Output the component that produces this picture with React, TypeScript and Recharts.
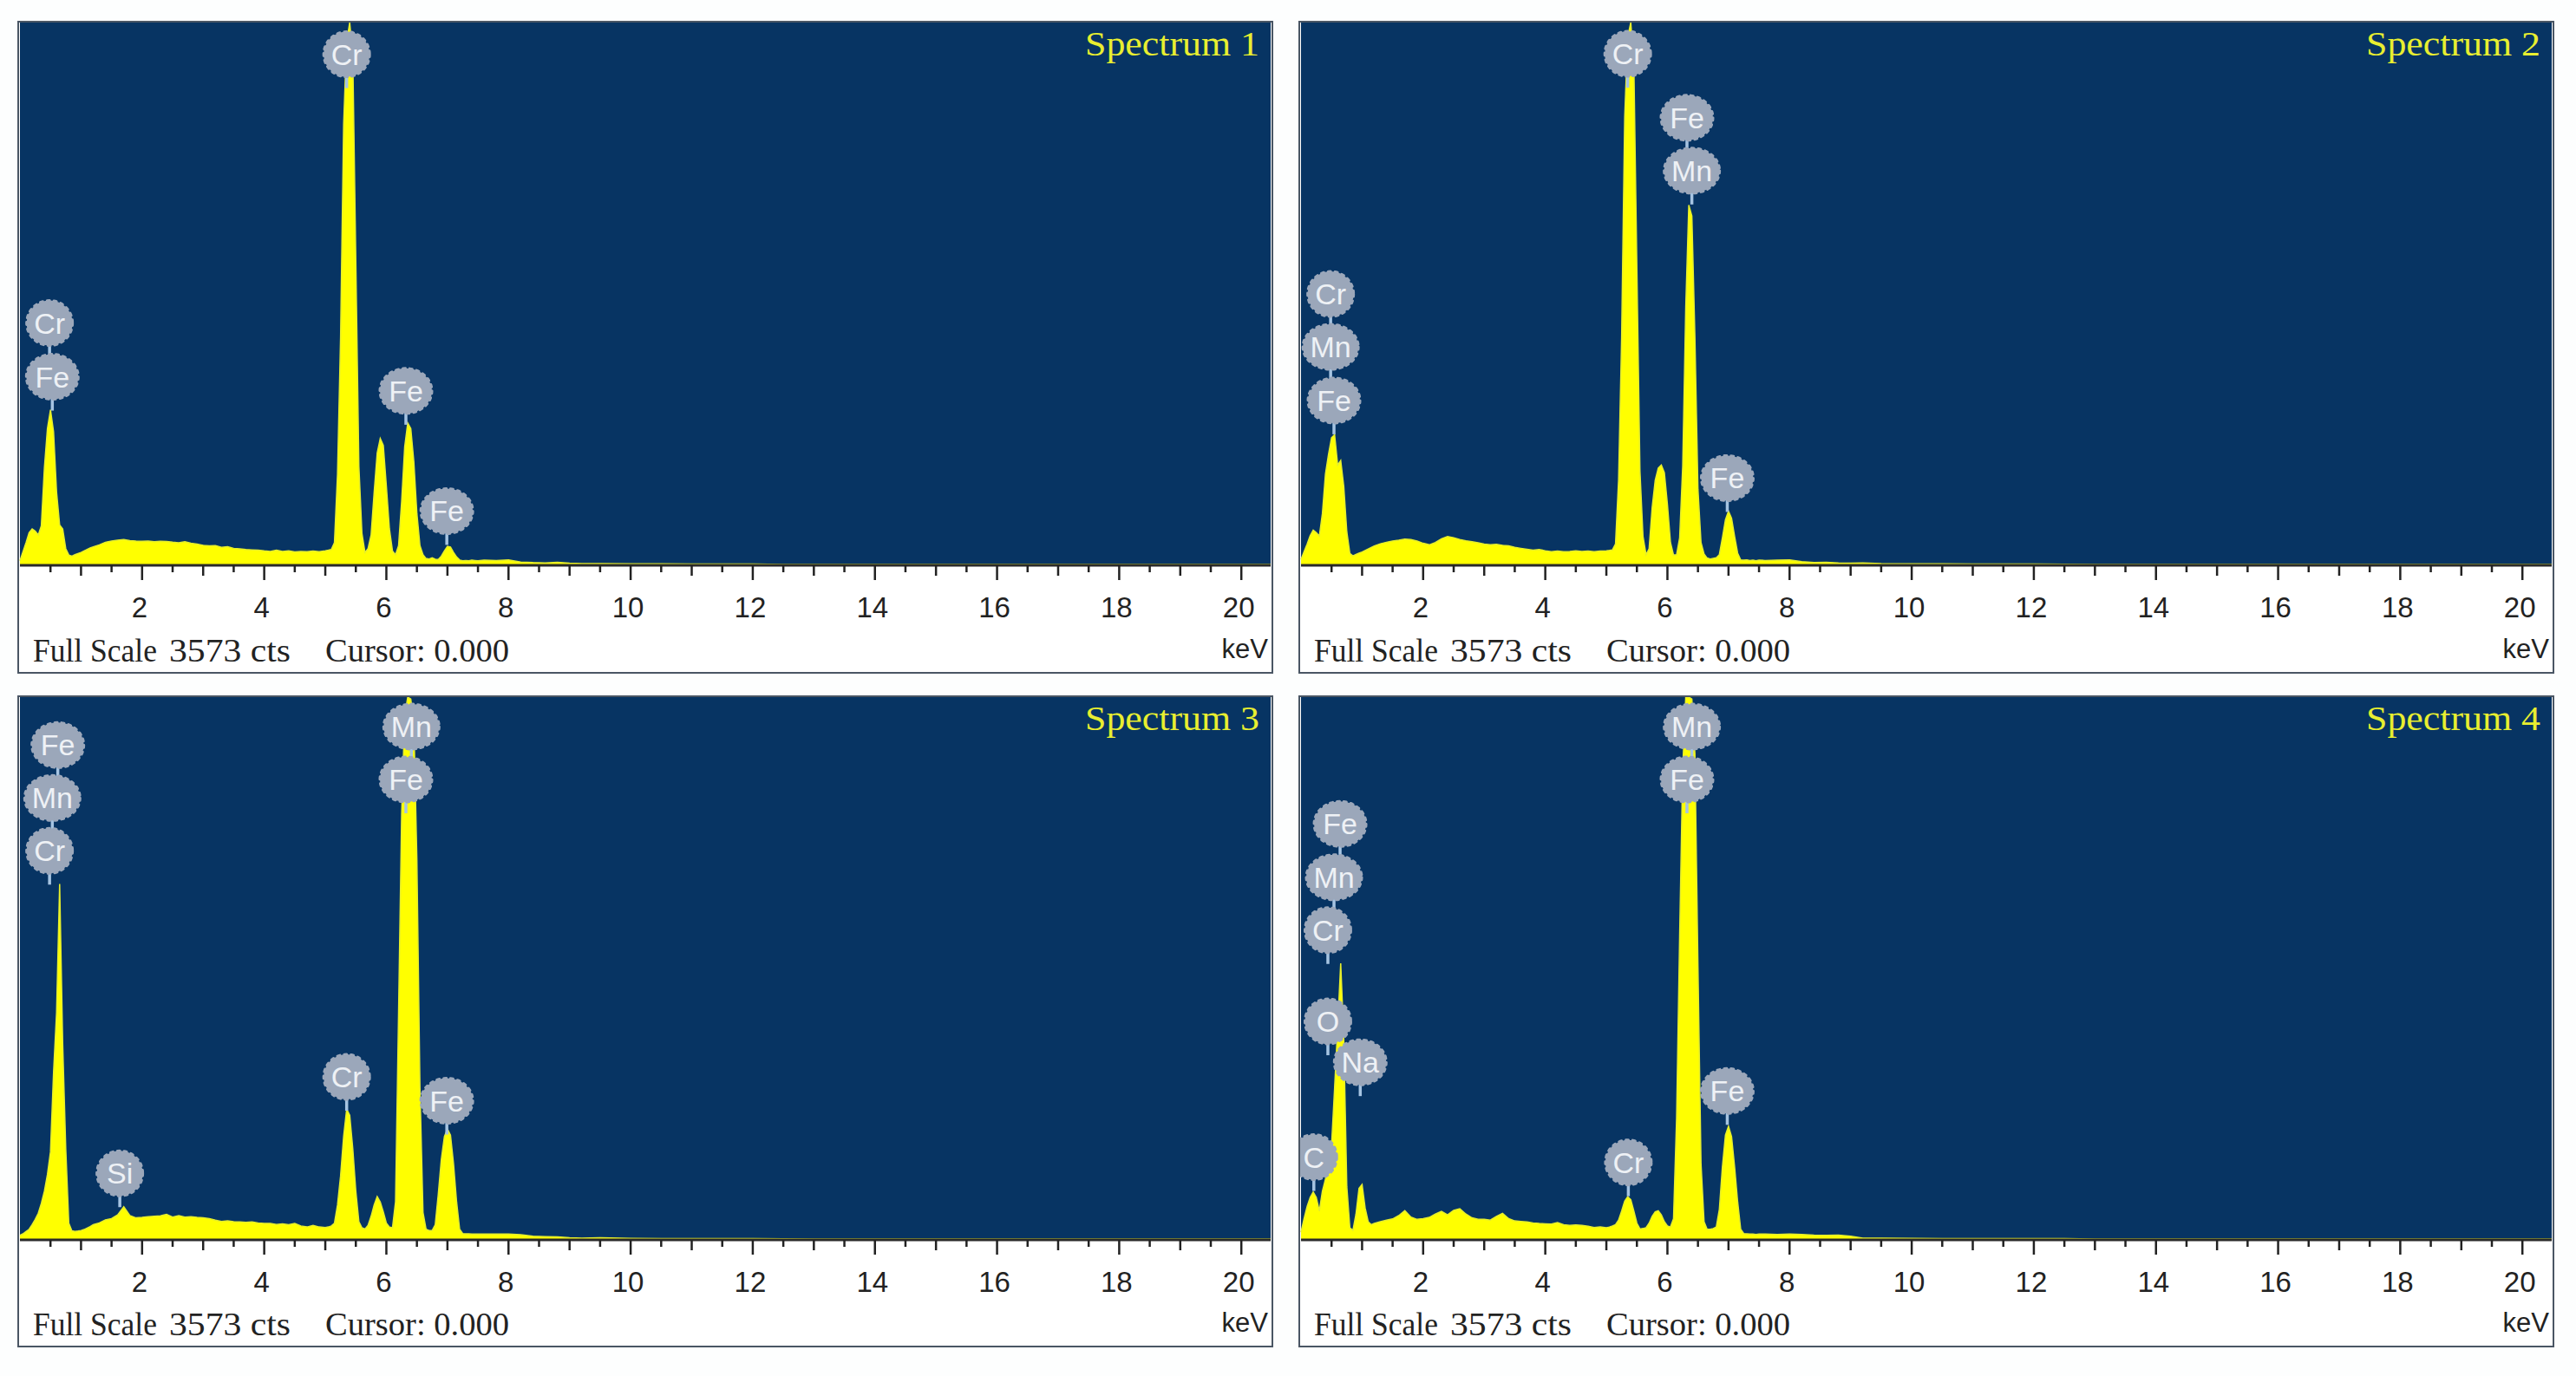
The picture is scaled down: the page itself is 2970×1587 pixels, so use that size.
import { Area, AreaChart, CartesianGrid, ReferenceDot, XAxis, YAxis } from "recharts";

// energy grid shared by the four spectra (keV)
const energies = [
  0, 0.05, 0.1, 0.15, 0.2, 0.25, 0.3, 0.35, 0.4, 0.45, 0.5, 0.55, 0.6, 0.65, 0.7, 0.75, 0.8, 0.85, 0.9, 0.95, 1, 1.05, 1.1, 1.15, 1.2,
  1.3, 1.4, 1.5, 1.6, 1.7, 1.8, 1.9, 2, 2.1, 2.2, 2.3, 2.4, 2.5, 2.6, 2.7, 2.8, 2.9, 3, 3.1, 3.2, 3.3, 3.4, 3.5, 3.6, 3.7, 3.8, 3.9, 4, 4.1, 4.2, 4.3, 4.4, 4.5, 4.6, 4.7, 4.8, 4.9, 5,
  5.05, 5.1, 5.15, 5.2, 5.25, 5.3, 5.35, 5.4, 5.45, 5.5, 5.55, 5.6,
  5.65, 5.7, 5.75, 5.8, 5.85, 5.9, 5.95, 6, 6.05, 6.1,
  6.15, 6.2, 6.25, 6.3, 6.35, 6.4, 6.45, 6.5, 6.55, 6.6,
  6.65, 6.7, 6.75, 6.8, 6.85, 6.9, 6.95, 7, 7.05, 7.1, 7.15, 7.2, 7.25, 7.3, 7.35, 7.4, 7.45, 7.5,
  7.6, 7.8, 8, 8.2, 8.4, 8.6, 8.8, 9, 9.2, 9.5, 10, 10.5, 11, 11.5, 12, 12.5, 13, 20.48,
];

const spectrum1 = [
  30, 90, 150, 215, 240, 225, 200, 260, 640, 900, 1024, 880, 480, 265, 240, 110, 68, 60, 70, 78, 85, 95, 105, 115, 122,
  135, 152, 160, 165, 170, 163, 160, 158, 160, 155, 158, 157, 152, 148, 155, 145, 140, 132, 128, 130, 118, 122, 112, 108, 104, 102, 100, 95, 92, 100, 92, 96, 88, 92, 90, 94, 90, 96,
  100, 105, 150, 600, 1500, 2900, 3450, 3573, 3350, 2000, 650, 210,
  85, 110, 200, 480, 740, 835, 790, 520, 240, 95,
  70, 130, 420, 780, 937, 900, 680, 340, 130, 70,
  45, 42, 50, 40, 38, 60, 95, 125, 120, 85, 55, 35, 30, 32, 30, 34, 32, 30,
  34, 32, 36, 22, 18, 16, 20, 14, 12, 11, 10, 10, 9, 8, 8, 6, 6, 6,
];

const spectrum2 = [
  38, 90, 140, 195, 232, 215, 192, 340, 600, 730, 840, 860, 660, 690, 520, 220, 78, 62, 72, 80, 88, 98, 108, 118, 128,
  142, 152, 160, 165, 172, 170, 160, 145, 135, 150, 175, 190, 182, 170, 162, 155, 148, 140, 135, 138, 132, 128, 118, 112, 106, 100, 104, 96, 90, 94, 90, 92, 96, 92, 94, 90, 94, 96,
  98, 102, 140, 560, 1500, 2950, 3480, 3573, 3300, 1950, 620, 190,
  70, 110, 380, 560, 640, 660, 610, 400, 150, 68,
  70, 180, 650, 1700, 2372, 2300, 1500, 500, 150, 75,
  48, 42, 46, 50, 70, 180, 300, 357, 310, 190, 80, 36, 34, 36, 32, 34, 30, 34,
  32, 34, 36, 24, 18, 20, 16, 14, 16, 11, 10, 10, 9, 9, 9, 7, 6, 6,
];

const spectrum3 = [
  30, 40, 55, 70, 100, 135, 175, 240, 320, 430, 580, 1100, 1500, 2343, 1290, 600, 110, 60, 56, 58, 62, 68, 78, 88, 100,
  112, 132, 140, 165, 218, 160, 145, 148, 152, 155, 158, 168, 150, 160, 150, 152, 148, 146, 140, 130, 122, 125, 120, 118, 116, 118, 112, 108, 108, 102, 106, 100, 108, 92, 85, 95, 85, 82,
  85, 92, 110, 230, 420, 680, 860, 820, 600, 320, 120, 80,
  72, 95, 155, 230, 285, 250, 185, 110, 85, 80,
  250, 1500, 2800, 3450, 3573, 3560, 3400, 2500, 1000, 180,
  70, 62, 62, 100, 300, 530, 680, 730, 690, 500, 250, 70, 42, 40, 40, 38, 38, 38,
  38, 38, 38, 34, 24, 22, 20, 14, 12, 14, 10, 9, 8, 8, 8, 7, 6, 6,
];

const spectrum4 = [
  50, 140, 220, 280, 315, 280, 190, 320, 400, 480, 620, 1000, 1400, 1821, 1328, 350, 80, 62, 170, 340, 365, 210, 120, 100, 108,
  120, 130, 138, 160, 192, 150, 135, 140, 148, 170, 188, 165, 195, 205, 170, 145, 135, 135, 130, 155, 175, 140, 125, 122, 118, 112, 108, 106, 104, 114, 100, 96, 98, 95, 90, 82, 85, 80,
  85, 92, 100, 130, 190, 255, 285, 265, 190, 110, 72, 75,
  80, 110, 155, 185, 192, 165, 120, 92, 85, 140,
  800, 2000, 3100, 3573, 3573, 3560, 3200, 1800, 500, 120,
  70, 70, 75, 85, 200, 480, 690, 748, 680, 480, 250, 70, 42, 40, 38, 38, 36, 38,
  38, 36, 38, 36, 32, 30, 32, 24, 12, 11, 10, 9, 9, 8, 8, 8, 6, 6,
];

// element markers: [element, keV, cts]
const labels1: [string, number, number][] = [
  ["Cr", 5.35, 3364], ["Cr", 0.485, 1595], ["Fe", 0.53, 1241], ["Fe", 6.32, 1148], ["Fe", 6.99, 357],
];
const labels2: [string, number, number][] = [
  ["Cr", 5.35, 3367], ["Fe", 6.32, 2946], ["Mn", 6.4, 2598], ["Cr", 0.485, 1786], ["Mn", 0.485, 1438], ["Fe", 0.54, 1085], ["Fe", 6.98, 574],
];
const labels3: [string, number, number][] = [
  ["Fe", 0.62, 3257], ["Mn", 0.53, 2909], ["Cr", 0.485, 2561], ["Si", 1.635, 438], ["Cr", 5.35, 1073], ["Mn", 6.41, 3379], ["Fe", 6.32, 3031], ["Fe", 6.99, 916],
];
const labels4: [string, number, number][] = [
  ["Fe", 0.64, 2738], ["Mn", 0.54, 2387], ["Cr", 0.44, 2039], ["O", 0.44, 1438], ["Na", 0.97, 1169], ["C", 0.21, 545], ["Cr", 5.36, 510], ["Mn", 6.4, 3379], ["Fe", 6.32, 3031], ["Fe", 6.98, 980],
];

const xTicks = [
  0.5, 1, 1.5, 2, 2.5, 3, 3.5, 4, 4.5, 5, 5.5, 6, 6.5, 7, 7.5, 8, 8.5, 9, 9.5, 10,
  10.5, 11, 11.5, 12, 12.5, 13, 13.5, 14, 14.5, 15, 15.5, 16, 16.5, 17, 17.5, 18, 18.5, 19, 19.5, 20,
];

const FULL_SCALE = 3573;
const PLOT_BG = "#073463";
const SANS = "'Liberation Sans', Arial, sans-serif";
const SERIF = "'Liberation Serif', 'Times New Roman', serif";

function EnergyTick({ x, y, payload }: any) {
  const value = payload.value as number;
  const len = value % 2 === 0 ? 17 : value % 1 === 0 ? 12 : 8;
  return (
    <g>
      <line x1={x} x2={x} y1={y} y2={y + len} stroke="#222" strokeWidth={2.5} />
      {value % 2 === 0 && (
        <text x={x - 3} y={y + 60} textAnchor="middle" fontFamily={SANS} fontSize={33} fill="#222">
          {value}
        </text>
      )}
    </g>
  );
}

function Badge({ cx, cy, name }: any) {
  const rx = name === "Mn" ? 32 : name === "Fe" || name === "Na" ? 30 : 26.5;
  const ry = 26;
  return (
    <g>
      <line x1={cx} x2={cx} y1={cy} y2={cy + ry + 13} stroke="#a6c4e2" strokeWidth={3.5} />
      <ellipse
        cx={cx}
        cy={cy}
        rx={rx}
        ry={ry}
        fill="#9ba7ba"
        stroke="#9ba7ba"
        strokeWidth={3}
        strokeDasharray="3 5"
        strokeLinecap="round"
      />
      <text x={cx} y={cy + 12} textAnchor="middle" fontFamily={SANS} fontSize={34} fill="#eef1f5">
        {name}
      </text>
    </g>
  );
}

function Spectrum({
  counts,
  labels,
  title,
  left,
  top,
  height,
  bottom,
}: {
  counts: number[];
  labels: [string, number, number][];
  title: string;
  left: number;
  top: number;
  height: number;
  bottom: number;
}) {
  const data = energies.map((kev, i) => ({ kev, cts: counts[i] }));
  const innerH = height - 4;
  const textY = innerH - 12;
  return (
    <div
      style={{
        position: "absolute",
        left,
        top,
        width: 1448,
        height,
        boxSizing: "border-box",
        border: "2px solid #4a5664",
        background: "#fff",
      }}
    >
      <AreaChart width={1444} height={innerH} data={data} margin={{ top: 0, right: 1, bottom: 0, left: 1 }}>
        <CartesianGrid horizontal={false} vertical={false} fill={PLOT_BG} fillOpacity={1} />
        <XAxis
          dataKey="kev"
          type="number"
          domain={[0, 20.48]}
          ticks={xTicks}
          interval={0}
          height={bottom}
          tickLine={false}
          tickSize={0}
          tickMargin={0}
          tick={<EnergyTick />}
          axisLine={{ stroke: "#2a2a2a", strokeWidth: 3 }}
        />
        <YAxis hide domain={[0, FULL_SCALE]} allowDataOverflow />
        <Area
          type="linear"
          dataKey="cts"
          stroke="#e6ee2c"
          strokeWidth={1.5}
          fill="#ffff00"
          fillOpacity={1}
          dot={false}
          activeDot={false}
          isAnimationActive={false}
        />
        {labels.map(([name, kev, cts], i) => (
          <ReferenceDot
            key={i}
            x={kev}
            y={cts}
            ifOverflow="visible"
            shape={(p: any) => <Badge cx={p.cx} cy={p.cy} name={name} />}
          />
        ))}
        <text x={1430} y={38} textAnchor="end" fontFamily={SERIF} fontSize={41} fill="#e8ee30" textLength={201} lengthAdjust="spacingAndGlyphs">
          {title}
        </text>
        <text x={16} y={textY} fontFamily={SERIF} fontSize={37} fill="#222" textLength={143} lengthAdjust="spacingAndGlyphs">
          Full Scale
        </text>
        <text x={173} y={textY} fontFamily={SERIF} fontSize={37} fill="#222" textLength={140} lengthAdjust="spacingAndGlyphs">
          3573 cts
        </text>
        <text x={353} y={textY} fontFamily={SERIF} fontSize={37} fill="#222" textLength={212} lengthAdjust="spacingAndGlyphs">
          Cursor: 0.000
        </text>
        <text x={1440} y={textY - 4} textAnchor="end" fontFamily={SANS} fontSize={31} fill="#222">
          keV
        </text>
      </AreaChart>
    </div>
  );
}

export default function App() {
  return (
    <div style={{ position: "fixed", left: 0, top: 0, width: 2970, height: 1587, background: "#fdfefe", overflow: "hidden" }}>
      <Spectrum counts={spectrum1} labels={labels1} title="Spectrum 1" left={20} top={24} height={753} bottom={123} />
      <Spectrum counts={spectrum2} labels={labels2} title="Spectrum 2" left={1497} top={24} height={753} bottom={123} />
      <Spectrum counts={spectrum3} labels={labels3} title="Spectrum 3" left={20} top={802} height={752} bottom={122} />
      <Spectrum counts={spectrum4} labels={labels4} title="Spectrum 4" left={1497} top={802} height={752} bottom={122} />
    </div>
  );
}
